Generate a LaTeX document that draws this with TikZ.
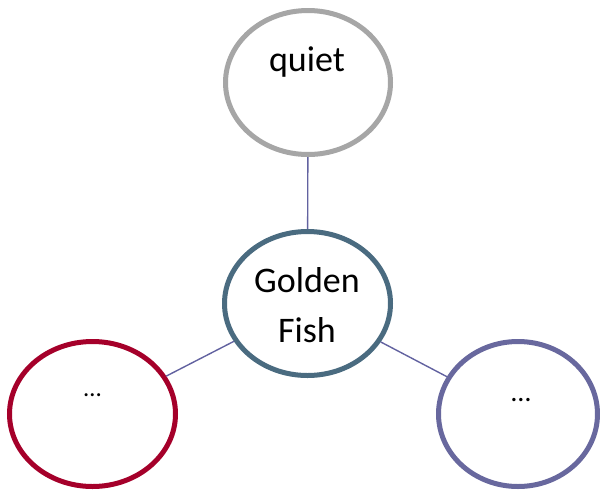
\documentclass[tikz,border=0pt]{standalone}
\usepackage{fontspec}
\setmainfont{Carlito}
\usetikzlibrary{shapes.geometric}
\definecolor{topgray}{HTML}{A6A6A6}
\definecolor{centerblue}{HTML}{4A6B80}
\definecolor{leftred}{HTML}{A5002A}
\definecolor{rightpurple}{HTML}{68689E}
\definecolor{linkcol}{HTML}{6262A0}
\tikzset{
  bubble/.style={ellipse, draw, line width=5pt, inner sep=0pt, fill=white},
  link/.style={draw=linkcol, line width=1.4pt},
  bigtext/.style={anchor=base, inner sep=0pt, font=\fontsize{36}{50}\selectfont},
}
\begin{document}
\begin{tikzpicture}[x=1pt,y=-1pt]
\useasboundingbox (0,0) rectangle (600,491);
\node[bubble, draw=topgray, minimum width=165pt, minimum height=144pt] (top) at (308,82.5) {};
\node[bubble, draw=centerblue, minimum width=166pt, minimum height=144pt] (mid) at (307.5,303.5) {};
\node[bubble, draw=leftred, minimum width=166pt, minimum height=145pt] (left) at (92.5,414) {};
\node[bubble, draw=rightpurple, minimum width=159pt, minimum height=145pt] (right) at (518,414) {};
\draw[link] (top) -- (mid);
\draw[link] (mid) -- (left);
\draw[link] (mid) -- (right);
\node[bigtext] (tq) at (307,71) {quiet};
\node[bigtext] (tg) at (307,292) {Golden};
\node[bigtext] (tf) at (307,342) {Fish};
\node[anchor=base, inner sep=0pt, font=\fontsize{25}{30}\selectfont] (tl) at (92.5,396) {…};
\node[anchor=base, inner sep=0pt, font=\fontsize{28}{34}\selectfont] (tr) at (521,401) {…};
\end{tikzpicture}
\end{document}
